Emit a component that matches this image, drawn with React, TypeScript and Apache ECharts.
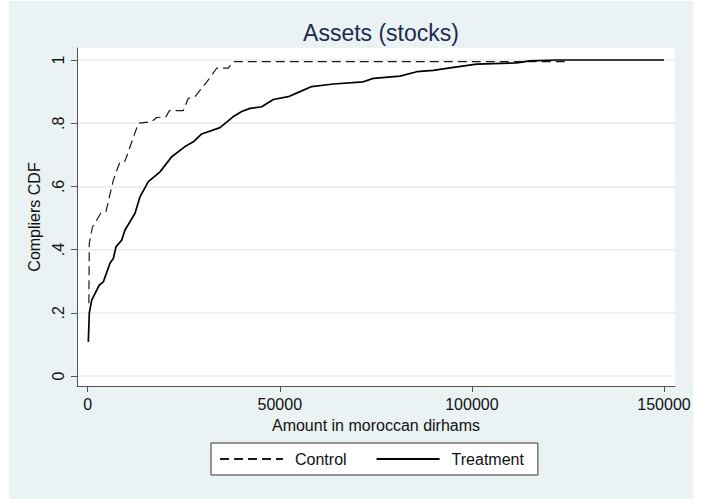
import React, { useEffect, useRef } from "react";
import * as echarts from "echarts";

const titleText = "Assets (stocks)";
const xAxisName = "Amount in moroccan dirhams";
const yAxisName = "Compliers CDF";
const xTicks = [0, 50000, 100000, 150000];
const yTicks = [0, 0.2, 0.4, 0.6, 0.8, 1];

// [amount, CDF]
const controlData: [number, number][] = [
  [300, 0.23], [416, 0.42], [1200, 0.47], [3380, 0.515], [4760, 0.52], [6670, 0.62],
  [8400, 0.678], [9700, 0.68], [13200, 0.8], [16650, 0.805], [17960, 0.818],
  [20380, 0.82], [21250, 0.84], [24890, 0.84], [26190, 0.879], [27930, 0.884],
  [31400, 0.937], [33570, 0.974], [36600, 0.974], [37900, 0.995], [124000, 0.995],
  [125000, 1],
];

const treatmentData: [number, number][] = [
  [160, 0.108], [420, 0.2], [1040, 0.24], [3030, 0.288], [4070, 0.298], [5800, 0.357],
  [6670, 0.372], [7370, 0.409], [8850, 0.43], [9710, 0.462], [11010, 0.488],
  [12310, 0.515], [13610, 0.567], [15780, 0.615], [18820, 0.646], [21860, 0.694],
  [25330, 0.726], [27490, 0.741], [29670, 0.766], [34440, 0.786], [37900, 0.821],
  [40090, 0.837], [42250, 0.847], [45290, 0.852], [48310, 0.875], [52220, 0.884],
  [55260, 0.9], [58310, 0.916], [63930, 0.924], [71740, 0.931], [74340, 0.942],
  [81290, 0.949], [85640, 0.963], [89960, 0.967], [94300, 0.975], [101250, 0.987],
  [111660, 0.991], [115100, 0.997], [122080, 1], [150000, 1],
];

const FONT = "Liberation Sans, Arial, Helvetica, sans-serif";

export default function App() {
  const ref = useRef<HTMLDivElement>(null);
  useEffect(() => {
    if (!ref.current) return;
    const chart = echarts.init(ref.current, null, { renderer: "svg" });
    chart.setOption({
      animation: false,
      backgroundColor: "#ffffff",
      graphic: [
        {
          type: "rect",
          z: -100,
          silent: true,
          shape: { x: 9, y: 1, width: 684, height: 498 },
          style: { fill: "#eaf2f3" },
        },
      ],
      title: {
        text: titleText,
        left: 376,
        textAlign: "center",
        top: 16,
        textStyle: { fontFamily: FONT, fontSize: 23, fontWeight: "normal", color: "#1c2b4e" },
      },
      legend: {
        left: 211,
        top: 443,
        padding: [8, 14, 8, 8],
        backgroundColor: "#ffffff",
        borderColor: "#333333",
        borderWidth: 1,
        borderRadius: 0,
        itemWidth: 63,
        itemHeight: 14,
        itemGap: 29,
        itemStyle: { color: "transparent", opacity: 0, borderWidth: 0 },
        textStyle: { fontFamily: FONT, fontSize: 16, color: "#111", padding: [0, 0, 0, 7] },
        data: ["Control", "Treatment"],
      },
      grid: {
        left: 77,
        right: 27,
        top: 48,
        bottom: 113,
        show: true,
        backgroundColor: "#ffffff",
        borderWidth: 0,
      },
      xAxis: {
        type: "value",
        min: -2785,
        max: 152860,
        name: xAxisName,
        nameLocation: "middle",
        nameGap: 31,
        nameTextStyle: { fontFamily: FONT, fontSize: 16, color: "#111" },
        axisLine: { show: true, onZero: false, lineStyle: { color: "#555", width: 1 } },
        axisTick: { show: true, length: 6, customValues: xTicks, lineStyle: { color: "#555" } },
        axisLabel: {
          customValues: xTicks,
          margin: 10,
          fontFamily: FONT,
          fontSize: 16,
          color: "#111",
          formatter: (v: number) => String(v),
        },
        splitLine: { show: false },
      },
      yAxis: {
        type: "value",
        min: -0.0316,
        max: 1.038,
        name: yAxisName,
        nameLocation: "middle",
        nameGap: 31,
        nameTextStyle: { fontFamily: FONT, fontSize: 16, color: "#111" },
        axisLine: { show: true, onZero: false, lineStyle: { color: "#555", width: 1 } },
        axisTick: { show: true, length: 6, customValues: yTicks, lineStyle: { color: "#555" } },
        axisLabel: {
          customValues: yTicks,
          rotate: 90,
          margin: 11,
          fontFamily: FONT,
          fontSize: 16,
          color: "#111",
          formatter: (v: number) => (v === 0 ? "0" : v === 1 ? "1" : String(Math.round(v * 10) / 10).replace(/^0/, "")),
        },
        splitLine: { show: true, lineStyle: { color: "#e6eef0", width: 1.5 } },
      },
      series: [
        {
          name: "Control",
          type: "line",
          data: controlData,
          symbol: "none",
          lineStyle: { color: "#1a1a1a", width: 1.2, type: [9, 5] },
          itemStyle: { color: "#1a1a1a" },
        },
        {
          name: "Treatment",
          type: "line",
          data: treatmentData,
          symbol: "none",
          lineStyle: { color: "#000000", width: 1.7, type: "solid" },
          itemStyle: { color: "#000000" },
        },
      ],
    });
    return () => chart.dispose();
  }, []);
  return (
    <div
      ref={ref}
      style={{ position: "fixed", left: 0, top: 0, width: 702, height: 499 }}
    />
  );
}
